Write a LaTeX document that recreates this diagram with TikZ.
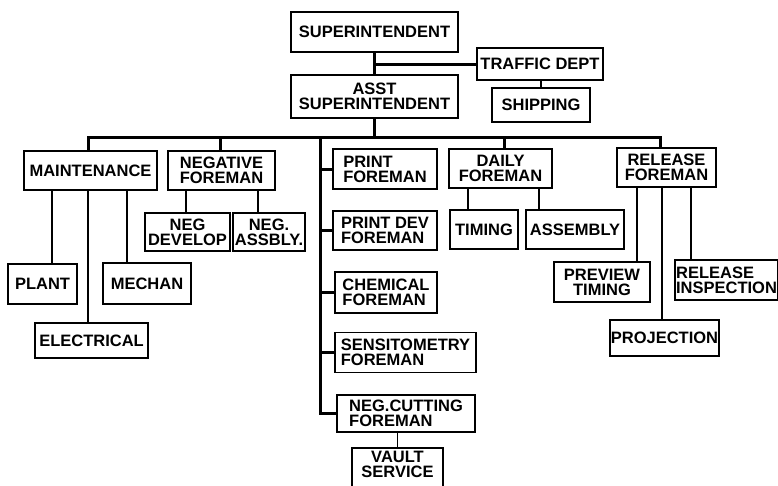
\documentclass[tikz,border=0pt]{standalone}
\usepackage{fontspec}
\setmainfont{Liberation Sans}
\usepackage{tikz}
\usetikzlibrary{calc}

\begin{document}
\begin{tikzpicture}[line cap=rect,line join=miter,x=1pt,y=-1pt,
  unit/.style={draw,line width=1.6pt,align=center,inner sep=1pt,
    font=\fontsize{16.5}{15}\selectfont\bfseries},
  leftunit/.style={unit,align=left},
  heavy/.style={line width=3pt},
  light/.style={line width=1.6pt}]
\clip (0,0) rectangle (778,485);
% top of the chart
\node[unit,minimum width=167,minimum height=40] (sup) at (374.5,32) {SUPERINTENDENT};
\node[unit,minimum width=167,minimum height=43] (asst) at (374.5,96.5) {ASST\\SUPERINTENDENT};
\node[unit,minimum width=126,minimum height=32] (traf) at (540,64) {TRAFFIC DEPT};
\node[unit,minimum width=98,minimum height=34] (ship) at (541,105) {SHIPPING};
\draw [heavy] (sup.south) -- (asst.north);
\coordinate (tj) at (374.5,64);
\draw [heavy] (tj) -- (traf.west);
\draw [light] (traf.south -| ship.north) -- (ship.north);
% second level
\node[unit,minimum width=133,minimum height=39] (maint) at (90.5,170.5) {MAINTENANCE};
\node[unit,minimum width=107,minimum height=39] (negf) at (221.5,170.5) {NEGATIVE\\FOREMAN};
\node[unit,minimum width=103,minimum height=39] (daily) at (500.5,168.5) {DAILY\\FOREMAN};
\node[unit,minimum width=99,minimum height=39] (relf) at (666.5,167.5) {RELEASE\\FOREMAN};
\coordinate (busL) at (88,137);
\coordinate (busR) at (660,137);
\coordinate (spineT) at (320,137);
\coordinate (spineB) at (320,413.5);
\draw [heavy] (asst.south) -- (asst.south |- busL);
\draw [heavy] ([xshift=-2.5pt]maint.north) -- (busL) -- (busR) -- (busR |- relf.north);
\draw [heavy] ([xshift=-1.5pt]negf.north) -- ([xshift=-1.5pt]negf.north |- busL);
\draw [heavy] ([xshift=3.5pt]daily.north) -- ([xshift=3.5pt]daily.north |- busL);
% print line
\node[leftunit,minimum width=104,minimum height=40] (prt) at (385,169) {PRINT\\FOREMAN};
\node[leftunit,minimum width=104,minimum height=39] (prtdev) at (385,230.5) {PRINT DEV\\FOREMAN};
\node[leftunit,minimum width=102,minimum height=41] (chem) at (386,292.5) {CHEMICAL\\FOREMAN};
\node[leftunit,minimum width=141,minimum height=40] (sens) at (405.5,352.5) {SENSITOMETRY\\FOREMAN};
\node[leftunit,minimum width=138,minimum height=37] (negcut) at (406,413.5) {NEG.CUTTING\\FOREMAN};
\node[unit,minimum width=91,minimum height=44,text depth=12pt] (vault) at (397.5,470) {VAULT\\SERVICE};
\draw [heavy] (spineT) -- (spineB) -- (negcut.west);
\draw [heavy] (spineT |- prt.west) -- (prt.west);
\draw [heavy] (spineT |- prtdev.west) -- (prtdev.west);
\draw [heavy] (spineT |- chem.west) -- (chem.west);
\draw [heavy] (spineT |- sens.west) -- (sens.west);
\draw [light] (negcut.south -| vault.north) -- (vault.north);
% maintenance group
\node[unit,minimum width=69,minimum height=40] (plant) at (42.5,284) {PLANT};
\node[unit,minimum width=113,minimum height=35] (elec) at (91.5,340.5) {ELECTRICAL};
\node[unit,minimum width=88,minimum height=41] (mech) at (147,283.5) {MECHAN};
\draw [light] ([xshift=-38.5pt]maint.south) -- ([xshift=-38.5pt]maint.south |- plant.north);
\draw [light] ([xshift=-2.5pt]maint.south) -- ([xshift=-2.5pt]maint.south |- elec.north);
\draw [light] ([xshift=36.5pt]maint.south) -- ([xshift=36.5pt]maint.south |- mech.north);
% negative group
\node[unit,minimum width=85,minimum height=38] (negdev) at (187.5,232) {NEG\\DEVELOP};
\node[unit,minimum width=72,minimum height=38] (negass) at (269,232) {NEG.\\ASSBLY.};
\draw [light] ([xshift=-35.5pt]negf.south) -- ([xshift=-35.5pt]negf.south |- negdev.north);
\draw [light] ([xshift=36.5pt]negf.south) -- ([xshift=36.5pt]negf.south |- negass.north);
% daily group
\node[unit,minimum width=68,minimum height=39] (tim) at (484,229.5) {TIMING};
\node[unit,minimum width=98,minimum height=39] (assy) at (575,229.5) {ASSEMBLY};
\draw [light] ([xshift=-32.5pt]daily.south) -- ([xshift=-32.5pt]daily.south |- tim.north);
\draw [light] ([xshift=38.5pt]daily.south) -- ([xshift=38.5pt]daily.south |- assy.north);
% release group
\node[unit,minimum width=96,minimum height=40] (prev) at (602,282) {PREVIEW\\TIMING};
\node[unit,minimum width=109,minimum height=36] (proj) at (664.5,338) {PROJECTION};
\node[leftunit,minimum width=103,minimum height=40] (insp) at (726.5,280) {RELEASE\\INSPECTION};
\draw [light] ([xshift=-29.5pt]relf.south) -- ([xshift=-29.5pt]relf.south |- prev.north);
\draw [light] ([xshift=-4.5pt]relf.south) -- ([xshift=-4.5pt]relf.south |- proj.north);
\draw [light] ([xshift=24.5pt]relf.south) -- ([xshift=24.5pt]relf.south |- insp.north);
\end{tikzpicture}
\end{document}
